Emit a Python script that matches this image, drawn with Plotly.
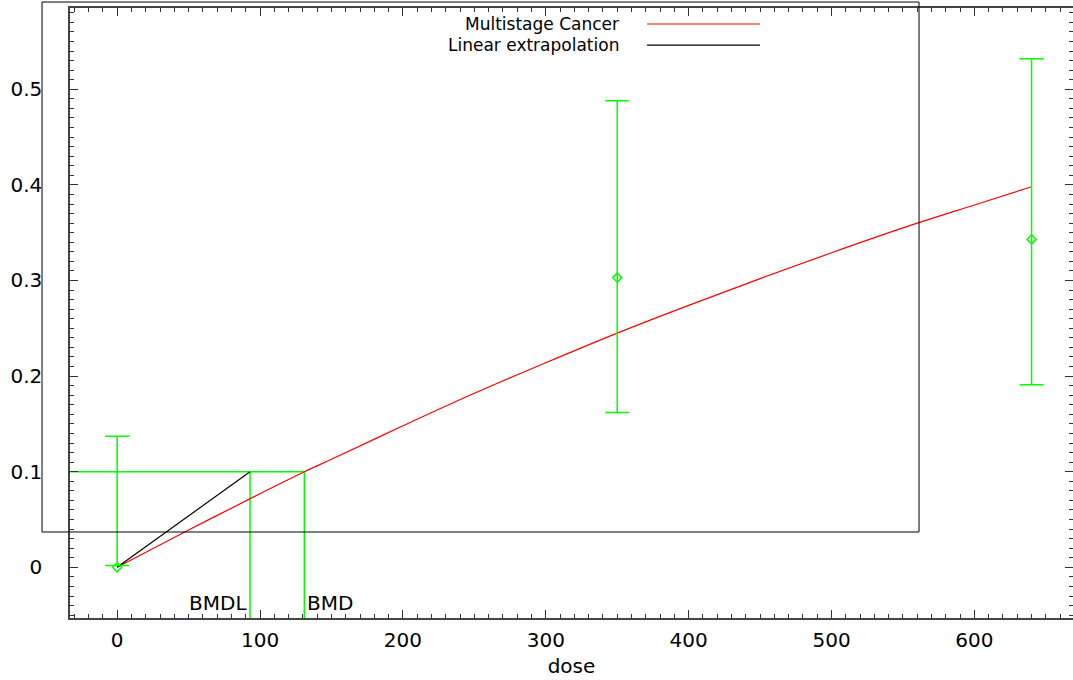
import plotly.graph_objects as go

dose = [0, 350, 640]
resp = [0.0, 0.303, 0.343]
err_hi = [0.137, 0.488, 0.532]
err_lo = [0.002, 0.162, 0.191]

# fitted multistage curve
fit_dose = [0, 50, 100, 131, 150, 200, 250, 300, 350, 400, 450, 500, 550, 600, 640]
fit_resp = [0.0, 0.039, 0.077, 0.100, 0.113, 0.148, 0.182, 0.214, 0.245, 0.274,
            0.302, 0.329, 0.355, 0.379, 0.398]

bmr = 0.1
bmd = 131
bmdl = 93

xmin, xmax = -33, 669
ymin, ymax = -0.053, 0.585

green = "#00ff00"
fnt = dict(family="DejaVu Sans, sans-serif", size=20, color="black")
key_fnt = dict(family="DejaVu Sans, sans-serif", size=17, color="black")

fig = go.Figure()

# BMR / BMD / BMDL guide lines
fig.add_trace(go.Scatter(x=[xmin, bmd], y=[bmr, bmr], mode="lines",
                         line=dict(color=green, width=1.5), showlegend=False,
                         hoverinfo="skip"))
fig.add_trace(go.Scatter(x=[bmdl, bmdl], y=[bmr, ymin], mode="lines",
                         line=dict(color=green, width=1.5), showlegend=False,
                         hoverinfo="skip"))
fig.add_trace(go.Scatter(x=[bmd, bmd], y=[bmr, ymin], mode="lines",
                         line=dict(color=green, width=1.5), showlegend=False,
                         hoverinfo="skip"))

# model curve
fig.add_trace(go.Scatter(x=fit_dose, y=fit_resp, mode="lines", line_shape="spline",
                         line=dict(color="red", width=1.2), showlegend=False))
# linear extrapolation
fig.add_trace(go.Scatter(x=[0, bmdl], y=[0, bmr], mode="lines",
                         line=dict(color="black", width=1.2), showlegend=False))

# data with error bars
fig.add_trace(go.Scatter(
    x=dose, y=resp, mode="markers",
    marker=dict(symbol="diamond-open", size=7, color=green, line=dict(width=1.5)),
    error_y=dict(type="data", symmetric=False,
                 array=[h - r for h, r in zip(err_hi, resp)],
                 arrayminus=[r - l for r, l in zip(resp, err_lo)],
                 color=green, thickness=1.5, width=12),
    showlegend=False))

fig.add_annotation(x=bmdl, y=-0.037, text="BMDL", showarrow=False,
                   xanchor="right", xshift=-1, font=fnt)
fig.add_annotation(x=bmd, y=-0.037, text="BMD", showarrow=False,
                   xanchor="left", xshift=1, font=fnt)

# gnuplot style key: text then sample line
key = [("Multistage Cancer", "red", 0.9738), ("Linear extrapolation", "black", 0.9393)]
for label, col, yy in key:
    fig.add_annotation(x=0.5484, y=yy, xref="paper", yref="paper", text=label,
                       showarrow=False, xanchor="right", yanchor="middle",
                       font=key_fnt, borderpad=0)
    fig.add_shape(type="line", xref="paper", yref="paper", x0=0.5753, x1=0.6879,
                  y0=yy, y1=yy, line=dict(color=col, width=1.2))

# stray key frame
fig.add_shape(type="rect", xref="paper", yref="paper", x0=-0.0279, x1=0.8465,
              y0=0.141, y1=1.0098, line=dict(color="black", width=1))

fig.update_xaxes(range=[xmin, xmax], dtick=100, tick0=0, ticks="inside", ticklen=8,
                 tickcolor="#333", showline=True, linecolor="#444", linewidth=1.5,
                 mirror="allticks", showgrid=False, zeroline=False, automargin=False,
                 minor=dict(dtick=10, tick0=0, ticks="inside", ticklen=4, tickcolor="#333"),
                 tickfont=fnt, ticklabelstandoff=3,
                 title=dict(text="dose", font=fnt, standoff=8))
fig.update_yaxes(range=[ymin, ymax], dtick=0.1, tick0=0, ticks="inside", ticklen=8,
                 tickcolor="#333", showline=True, linecolor="#444", linewidth=1.5,
                 mirror="allticks", showgrid=False, zeroline=False, automargin=False,
                 minor=dict(dtick=0.01, tick0=0, ticks="inside", ticklen=4, tickcolor="#333"),
                 tickfont=fnt, ticklabelstandoff=22, tickformat="~g")

fig.update_layout(width=1073, height=680, margin=dict(l=70, r=0, t=8, b=62),
                  plot_bgcolor="white", paper_bgcolor="white", showlegend=False)

fig.write_html("out.html", config={"displayModeBar": False},
               post_script="document.body.style.margin='0';")
